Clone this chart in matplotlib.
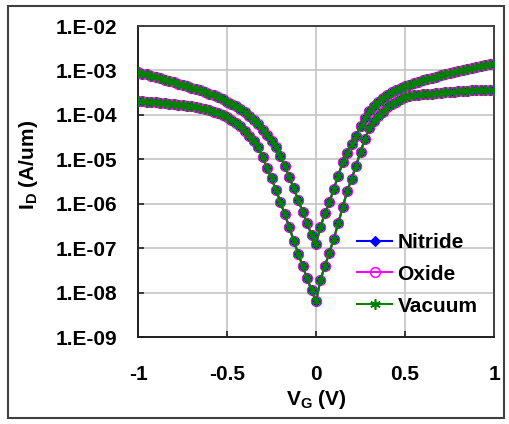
import numpy as np
import matplotlib
matplotlib.use("Agg")
import matplotlib.pyplot as plt
from matplotlib.patches import Rectangle
from matplotlib.ticker import FixedLocator, FixedFormatter

plt.rcParams['font.family'] = ['Liberation Sans', 'DejaVu Sans']
plt.rcParams['mathtext.fontset'] = 'custom'
plt.rcParams['mathtext.rm'] = 'Liberation Sans:bold'
plt.rcParams['mathtext.bf'] = 'Liberation Sans:bold'

# ---- data (gate voltage, V) ----
vg = [round(-1 + 0.025 * i, 3) for i in range(81)]

# log10(I_D), curve with higher current (min ~1e-7)
log_id_high = [
    -3.04, -3.07, -3.09, -3.12, -3.15, -3.18, -3.21, -3.24, -3.27, -3.30,
    -3.33, -3.36, -3.39, -3.42, -3.45, -3.48, -3.52, -3.56, -3.60, -3.65,
    -3.70, -3.75, -3.81, -3.87, -3.94, -4.02, -4.11, -4.21, -4.33, -4.45,
    -4.58, -4.72, -4.92, -5.16, -5.40, -5.65, -5.92, -6.18, -6.44, -6.70,
    -6.90,
    -6.52, -6.22, -5.97, -5.67, -5.37, -5.07, -4.86, -4.65, -4.47, -4.26,
    -4.08, -3.92, -3.80, -3.70, -3.62, -3.55, -3.49, -3.44, -3.39, -3.35,
    -3.32, -3.29, -3.26, -3.22, -3.19, -3.16, -3.14, -3.11, -3.09, -3.06,
    -3.04, -3.01, -2.99, -2.97, -2.94, -2.92, -2.90, -2.88, -2.86, -2.85,
]

# log10(I_D), curve with lower current (min ~6e-9)
log_id_low = [
    -3.68, -3.69, -3.70, -3.71, -3.72, -3.73, -3.74, -3.75, -3.76, -3.77,
    -3.78, -3.80, -3.81, -3.83, -3.85, -3.87, -3.90, -3.93, -3.96, -4.00,
    -4.05, -4.11, -4.18, -4.26, -4.36, -4.47, -4.59, -4.72, -4.95, -5.20,
    -5.43, -5.69, -5.96, -6.24, -6.53, -6.83, -7.13, -7.40, -7.68, -7.95,
    -8.20,
    -7.72, -7.40, -7.10, -6.79, -6.44, -6.08, -5.72, -5.44, -5.14, -4.84,
    -4.54, -4.30, -4.14, -4.03, -3.94, -3.83, -3.76, -3.70, -3.65, -3.60,
    -3.58, -3.56, -3.55, -3.54, -3.53, -3.52, -3.51, -3.50, -3.49, -3.48,
    -3.48, -3.47, -3.46, -3.46, -3.45, -3.45, -3.44, -3.44, -3.43, -3.43,
]

# the three passivations are indistinguishable in the picture
series_names = ['Nitride', 'Oxide', 'Vacuum']
series_high = {'Nitride': log_id_high, 'Oxide': log_id_high, 'Vacuum': log_id_high}
series_low = {'Nitride': log_id_low, 'Oxide': log_id_low, 'Vacuum': log_id_low}

x_ticks = [-1, -0.5, 0, 0.5, 1]
x_tick_labels = ['-1', '-0.5', '0', '0.5', '1']
y_ticks = [1e-9, 1e-8, 1e-7, 1e-6, 1e-5, 1e-4, 1e-3, 1e-2]
y_tick_labels = ['1.E-09', '1.E-08', '1.E-07', '1.E-06', '1.E-05', '1.E-04', '1.E-03', '1.E-02']

# ---- styles ----
styles = {
    'Nitride': dict(color='#0000ff', marker='D', markersize=5, mfc='#0000ff', mec='#0000ff', mew=0.8),
    'Oxide': dict(color='#ff00ff', marker='o', markersize=7, mfc='none', mec='#ff00ff', mew=1.1),
    'Vacuum': dict(color='#008000', marker=(6, 2, 0), markersize=7.5, mfc='#008000', mec='#008000', mew=1.2),
}

fig = plt.figure(figsize=(5.09, 4.24), dpi=100)
ax = fig.add_axes([138 / 509, 1 - 337 / 424, 356 / 509, 311 / 424])

for name in series_names:
    st = styles[name]
    for data, lab in ((series_high[name], name), (series_low[name], None)):
        ax.plot(vg, [10.0 ** v for v in data], linestyle='-', linewidth=1.5,
                label=lab, zorder=3, **st)

ax.set_yscale('log')
ax.set_xlim(-1, 1)
ax.set_ylim(1e-9, 1e-2)
ax.xaxis.set_major_locator(FixedLocator(x_ticks))
ax.xaxis.set_major_formatter(FixedFormatter(x_tick_labels))
ax.yaxis.set_major_locator(FixedLocator(y_ticks))
ax.yaxis.set_major_formatter(FixedFormatter(y_tick_labels))
ax.yaxis.set_minor_locator(FixedLocator([]))

ax.grid(True, color='#c8c8c8', linewidth=1.3, zorder=0)
ax.set_axisbelow(True)
for s in ax.spines.values():
    s.set_color('#404040')
    s.set_linewidth(1.4)
ax.spines['left'].set_color('#202020')
ax.spines['bottom'].set_color('#202020')

ax.tick_params(axis='both', which='major', direction='in', length=4, width=1.2,
               color='#202020', labelsize=15)
ax.tick_params(axis='x', pad=20)
ax.tick_params(axis='y', pad=15)
for lbl in ax.get_xticklabels() + ax.get_yticklabels():
    lbl.set_fontweight('bold')

ax.set_xlabel('V$_{\\mathbf{G}}$ (V)', fontsize=15, fontweight='bold')
ax.xaxis.set_label_coords(0.5, -0.165)
ax.set_ylabel('I$_{\\mathbf{D}}$ (A/um)', fontsize=15, fontweight='bold')
ax.yaxis.set_label_coords(-0.275, 0.553)

leg = ax.legend(loc='upper left', bbox_to_anchor=(0.615, 0.335), frameon=False,
                prop={'size': 15, 'weight': 'bold'}, handlelength=1.7,
                handletextpad=0.25, labelspacing=0.62, borderpad=0, borderaxespad=0)

fig.patches.append(Rectangle((8 / 509, 6 / 424), 496 / 509, 412 / 424,
                             transform=fig.transFigure, fill=False,
                             edgecolor='#404040', linewidth=1.5))

fig.savefig('out.png', dpi=100)
